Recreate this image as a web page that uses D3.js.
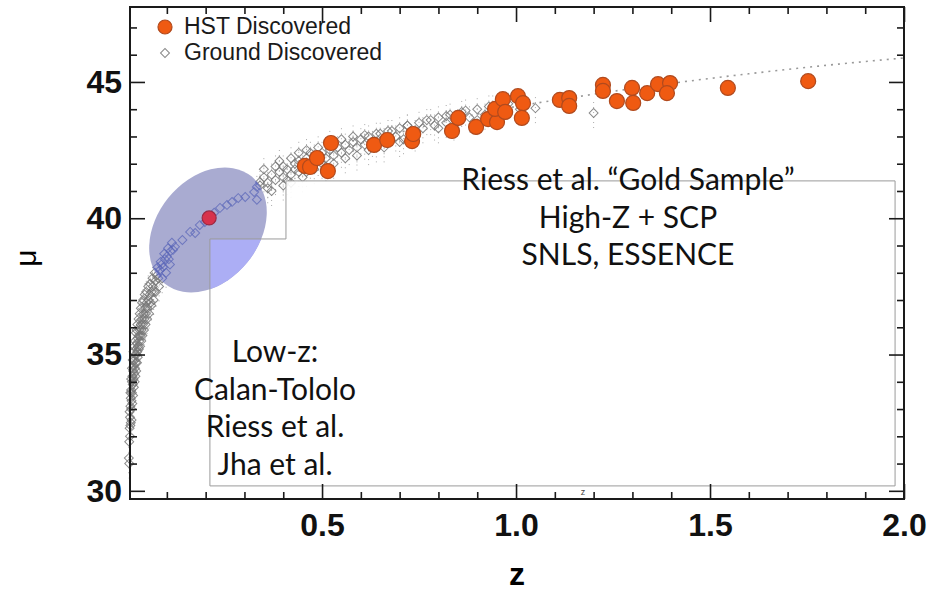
<!DOCTYPE html>
<html>
<head>
<meta charset="utf-8">
<script src="https://cdn.jsdelivr.net/npm/d3@7"></script>
<style>
  body { margin: 0; background: #fff; }
  svg { display: block; }
  .tick line { stroke: #1a1a1a; stroke-width: 1.6px; }
  .lab { font-family: "Lato", "Open Sans", sans-serif; font-size: 30px; fill: #111; text-anchor: middle; }
</style>
</head>
<body>
<svg id="chart" width="945" height="592"></svg>
<script>
// HST discovered SNe (orange)
var hstZ = [0.456, 0.469, 0.487, 0.515, 0.523, 0.634, 0.668, 0.732, 0.735, 0.835, 0.851, 0.897,
    0.928, 0.951, 0.946, 0.966, 0.972, 1.005, 1.018, 1.015, 1.113, 1.137, 1.137, 1.224, 1.224,
    1.260, 1.299, 1.302, 1.338, 1.366, 1.397, 1.389, 1.546, 1.753]
var hstMu = [41.92, 41.88, 42.21, 41.73, 42.76, 42.69, 42.87, 42.83, 43.09, 43.20, 43.68, 43.35,
    43.64, 43.53, 44.01, 44.37, 43.90, 44.48, 44.22, 43.68, 44.34, 44.41, 44.12, 44.89, 44.67,
    44.30, 44.78, 44.23, 44.59, 44.92, 44.96, 44.59, 44.78, 45.03]

// Ground discovered SNe (open diamonds)
var groundZ = [0.002, 0.003, 0.003, 0.004, 0.004, 0.005, 0.005, 0.006, 0.006, 0.006, 0.007, 0.007,
    0.008, 0.008, 0.008, 0.009, 0.009, 0.010, 0.010, 0.010, 0.011, 0.011, 0.012, 0.012, 0.013,
    0.013, 0.014, 0.014, 0.015, 0.015, 0.016, 0.016, 0.017, 0.017, 0.018, 0.018, 0.019, 0.019,
    0.020, 0.020, 0.021, 0.021, 0.022, 0.022, 0.023, 0.023, 0.024, 0.024, 0.025, 0.025, 0.026,
    0.027, 0.028, 0.028, 0.029, 0.030, 0.030, 0.031, 0.032, 0.033, 0.033, 0.034, 0.035, 0.036,
    0.036, 0.037, 0.038, 0.039, 0.040, 0.041, 0.042, 0.043, 0.044, 0.045, 0.046, 0.047, 0.048,
    0.049, 0.050, 0.052, 0.053, 0.054, 0.056, 0.057, 0.058, 0.060, 0.061, 0.063, 0.064, 0.066,
    0.067, 0.069, 0.070, 0.072, 0.074, 0.076, 0.078, 0.080, 0.082, 0.084, 0.086, 0.088, 0.090,
    0.093, 0.095, 0.098, 0.100, 0.103, 0.105, 0.108, 0.110, 0.113,
    0.116, 0.121, 0.140, 0.160, 0.173, 0.185, 0.198, 0.222, 0.237, 0.255, 0.268, 0.284, 0.302,
    0.325, 0.332, 0.332, 0.340,
    0.34, 0.35, 0.35, 0.36, 0.36, 0.37, 0.37, 0.38, 0.38, 0.39, 0.39, 0.40, 0.40, 0.40, 0.41,
    0.41, 0.42, 0.42, 0.42, 0.43, 0.43, 0.44, 0.44, 0.44, 0.45, 0.45, 0.46, 0.46, 0.46, 0.47,
    0.47, 0.48, 0.48, 0.49, 0.49, 0.50, 0.50, 0.51, 0.51, 0.52, 0.52, 0.53, 0.53, 0.54, 0.55,
    0.55, 0.56, 0.56, 0.57, 0.58, 0.58, 0.59, 0.59, 0.60, 0.61, 0.61, 0.62, 0.62, 0.63, 0.64,
    0.64, 0.65, 0.66, 0.66, 0.67, 0.68, 0.69, 0.70, 0.70, 0.71, 0.72, 0.72, 0.74, 0.74, 0.75,
    0.76, 0.77, 0.78, 0.79, 0.80, 0.80, 0.82, 0.82, 0.83, 0.84, 0.85, 0.86, 0.87, 0.88, 0.90,
    0.90, 0.92, 0.93, 0.94, 0.96, 0.97, 0.98, 1.01, 1.05, 1.20]
var groundMu = [31.2, 31.0, 31.8, 32.3, 32.9, 32.0, 32.7, 33.1, 32.4, 33.6, 32.5, 33.4,
    33.0, 33.7, 34.1, 33.3, 32.6, 34.0, 33.6, 34.5, 34.2, 33.2, 33.9, 34.8, 34.4,
    33.5, 34.1, 35.1, 34.6, 33.8, 34.3, 35.3, 34.8, 34.0, 34.5, 35.5, 35.0, 34.2,
    34.7, 35.8, 35.2, 34.4, 35.0, 35.9, 35.4, 34.7, 35.1, 36.1, 35.6, 34.9, 35.3,
    36.3, 35.7, 35.2, 35.5, 35.9, 36.5, 35.3, 35.7, 36.1, 36.7, 35.5, 35.9, 36.3,
    36.9, 35.7, 36.1, 37.0, 36.5, 35.9, 36.3, 37.2, 36.7, 36.1, 36.5, 37.3, 36.9,
    36.3, 36.7, 37.5, 37.0, 36.5, 37.2, 37.6, 36.9, 36.8, 37.3, 37.8, 37.5, 37.0,
    37.3, 38.0, 37.7, 37.3, 37.9, 38.2, 37.8, 37.5, 38.1, 38.4, 38.3, 37.8, 38.2,
    38.7, 38.5, 38.0, 38.6, 38.9, 38.5, 38.3, 38.8, 39.1,
    38.84, 38.95, 39.2, 39.50, 39.46, 39.75, 39.86, 40.2, 40.38, 40.49, 40.60, 40.74, 40.78,
    40.96, 41.15, 40.68, 41.33,
    41.2, 41.5, 41.8, 41.3, 41.1, 41.6, 41.0, 41.4, 41.9, 41.7, 42.1, 41.5, 41.9, 41.2, 41.8,
    41.4, 41.6, 42.2, 41.3, 42.0, 41.8, 42.1, 41.7, 42.4, 41.9, 41.5, 42.2, 41.7, 42.5, 42.0,
    42.4, 42.3, 41.8, 42.1, 42.6, 42.4, 42.0, 42.2, 41.9, 42.5, 42.8, 42.3, 42.0, 42.6, 42.4,
    42.9, 42.7, 42.2, 42.5, 42.8, 43.0, 42.6, 42.3, 42.9, 42.7, 43.05, 43.0, 42.5, 42.8, 42.6,
    43.1, 43.1, 42.9, 42.6, 43.2, 43.2, 43.0, 43.3, 42.8, 42.9, 43.4, 43.4, 43.2, 43.0, 43.5,
    43.3, 43.6, 43.6, 43.4, 43.7, 43.3, 43.5, 43.75, 43.8, 43.4, 43.6, 43.9, 43.95, 43.7, 44.0,
    43.6, 43.8, 44.1, 44.1, 43.9, 44.2, 44.2, 44.0, 44.04, 43.86]

// Model curve (dotted)
var modelZ = [0.5, 0.6, 0.7, 0.8, 0.9, 1.0, 1.1, 1.2, 1.3, 1.4, 1.5, 1.6, 1.7, 1.8, 1.9, 2.0]
var modelMu = [42.3, 42.75, 43.15, 43.5, 43.82, 44.1, 44.33, 44.55, 44.76, 44.95, 45.13, 45.3,
    45.46, 45.61, 45.75, 45.88]

// Highlighted SN inside the ellipse
var highlightZ = [0.209]
var highlightMu = [40.01]

// Ticks
var xMajor = [0.5, 1.0, 1.5, 2.0]
var xMinor = [0.1, 0.2, 0.3, 0.4, 0.6, 0.7, 0.8, 0.9, 1.1, 1.2, 1.3, 1.4, 1.6, 1.7, 1.8, 1.9]
var yMajor = [30, 35, 40, 45]
var yMinor = [31, 32, 33, 34, 36, 37, 38, 39, 41, 42, 43, 44, 46, 47]

// Annotation text
var goldLines = ["Riess et al. \u201cGold Sample\u201d", "High-Z + SCP", "SNLS, ESSENCE"]
var lowLines = ["Low-z:", "Calan-Tololo", "Riess et al.", "Jha et al."]
var legendLabels = ["HST Discovered", "Ground Discovered"]

var plotLeft = 130, plotTop = 7, plotRight = 904, plotBottom = 499
var svg = d3.select("#chart")

var x = d3.scaleLinear().domain([0.005, 2.0]).range([plotLeft, plotRight])
var y = d3.scaleLinear().domain([29.7, 47.75]).range([plotBottom, plotTop])

var orange = "#ef5a12"
var orangeStroke = "#b04a1e"

var ground = groundZ.map((z, i) => ({z: z, mu: groundMu[i]}))
var hst = hstZ.map((z, i) => ({z: z, mu: hstMu[i]}))

var diamond = d3.symbol().type(d3.symbolSquare).size(40)

// faint error bar dots
svg.append("g").selectAll("line")
    .data(ground)
    .enter().append("line")
    .attr("x1", d => x(d.z)).attr("x2", d => x(d.z))
    .attr("y1", d => y(d.mu - 0.55)).attr("y2", d => y(d.mu + 0.55))
    .style("stroke", "#aaa")
    .style("stroke-width", "1px")
    .style("stroke-dasharray", "1,4")

svg.append("g").selectAll("path")
    .data(ground)
    .enter().append("path")
    .attr("d", diamond)
    .attr("transform", d => "translate(" + x(d.z) + "," + y(d.mu) + ") rotate(45)")
    .style("fill", "none")
    .style("stroke", "#777")
    .style("stroke-opacity", 0.85)
    .style("stroke-width", "1px")

// model line
var line = d3.line().x(d => x(d[0])).y(d => y(d[1])).curve(d3.curveMonotoneX)
svg.append("path")
    .datum(modelZ.map((z, i) => [z, modelMu[i]]))
    .attr("d", line)
    .style("fill", "none")
    .style("stroke", "#999")
    .style("stroke-width", "1.6px")
    .style("stroke-dasharray", "2,5")

// step shaped box behind the annotations
var boxPts = [[0.211, 30.18], [0.211, 39.24], [0.407, 39.24], [0.407, 41.37], [1.977, 41.37], [1.977, 30.18]]
var boxPath = "M" + boxPts.map(p => x(p[0]) + "," + y(p[1])).join("L") + "Z"
svg.append("path")
    .attr("d", boxPath)
    .style("fill", "#fff")
    .style("fill-opacity", 0.9)

// ellipse
var ell = {z: 0.206, mu: 39.57}
var ellTransform = "translate(" + x(ell.z) + "," + y(ell.mu) + ") rotate(-51)"
var defs = svg.append("defs")
defs.append("clipPath").attr("id", "boxClip").append("path").attr("d", boxPath)
defs.append("clipPath").attr("id", "ellClip").append("ellipse")
    .attr("rx", 69).attr("ry", 51)
    .attr("transform", ellTransform)

svg.append("ellipse")
    .attr("rx", 69).attr("ry", 51)
    .attr("transform", ellTransform)
    .style("fill", "#a9abd1")
svg.append("g").attr("clip-path", "url(#boxClip)")
    .append("ellipse")
    .attr("rx", 69).attr("ry", 51)
    .attr("transform", ellTransform)
    .style("fill", "#acaef5")

// diamonds seen through the ellipse
svg.append("g").attr("clip-path", "url(#ellClip)")
    .selectAll("path")
    .data(ground)
    .enter().append("path")
    .attr("d", diamond)
    .attr("transform", d => "translate(" + x(d.z) + "," + y(d.mu) + ") rotate(45)")
    .style("fill", "none")
    .style("stroke", "#5a66b8")
    .style("stroke-opacity", 0.75)
    .style("stroke-width", "1px")

svg.append("path")
    .attr("d", boxPath)
    .style("fill", "none")
    .style("stroke", "#9a9a9a")
    .style("stroke-width", "1px")

// HST points
svg.append("g").selectAll("circle")
    .data(hst)
    .enter().append("circle")
    .attr("cx", d => x(d.z))
    .attr("cy", d => y(d.mu))
    .attr("r", 7.5)
    .style("fill", orange)
    .style("stroke", orangeStroke)
    .style("stroke-width", "1.2px")

svg.append("g").selectAll("circle")
    .data(highlightZ.map((z, i) => ({z: z, mu: highlightMu[i]})))
    .enter().append("circle")
    .attr("cx", d => x(d.z))
    .attr("cy", d => y(d.mu))
    .attr("r", 7)
    .style("fill", "#d8324c")
    .style("stroke", "#9a2a44")
    .style("stroke-width", "1.2px")

// annotation text
svg.append("g").selectAll("text")
    .data(goldLines)
    .enter().append("text")
    .attr("class", "lab")
    .attr("x", 628)
    .attr("y", (d, i) => 190 + i * 37.5)
    .text(d => d)

svg.append("g").selectAll("text")
    .data(lowLines)
    .enter().append("text")
    .attr("class", "lab")
    .attr("x", 275)
    .attr("y", (d, i) => 362 + i * 37.7)
    .text(d => d)

// axes
function tickAxis(axis, scale, vals, size, tx, ty) {
    var g = svg.append("g")
        .attr("transform", "translate(" + tx + "," + ty + ")")
        .call(axis(scale).tickValues(vals).tickSize(size).tickFormat(""))
    g.select(".domain").remove()
    return g
}
tickAxis(d3.axisBottom, x, xMinor, -7, 0, plotBottom)
tickAxis(d3.axisTop, x, xMinor, -7, 0, plotTop)
tickAxis(d3.axisTop, x, xMajor, -15, 0, plotTop)
tickAxis(d3.axisLeft, y, yMinor, -7, plotLeft, 0)
tickAxis(d3.axisRight, y, yMinor, -7, plotRight, 0)
tickAxis(d3.axisRight, y, yMajor, -15, plotRight, 0)

var xAxis = svg.append("g")
    .attr("transform", "translate(0," + plotBottom + ")")
    .call(d3.axisBottom(x).tickValues(xMajor).tickSize(-15).tickPadding(14).tickFormat(d3.format(".1f")))
xAxis.select(".domain").remove()

var yAxis = svg.append("g")
    .attr("transform", "translate(" + plotLeft + ",0)")
    .call(d3.axisLeft(y).tickValues(yMajor).tickSize(-15).tickPadding(8).tickFormat(d3.format("d")))
yAxis.select(".domain").remove()

svg.selectAll(".tick text")
    .style("font-family", "'Liberation Sans', Arial, sans-serif")
    .style("font-weight", "bold")
    .style("font-size", "32px")
    .style("fill", "#111")

svg.append("rect")
    .attr("x", plotLeft).attr("y", plotTop)
    .attr("width", plotRight - plotLeft).attr("height", plotBottom - plotTop)
    .style("fill", "none")
    .style("stroke", "#1a1a1a")
    .style("stroke-width", "2px")

svg.append("text")
    .attr("x", (plotLeft + plotRight) / 2)
    .attr("y", 585)
    .attr("text-anchor", "middle")
    .style("font-family", "'Liberation Sans', Arial, sans-serif")
    .style("font-weight", "bold")
    .style("font-size", "32px")
    .text("z")

svg.append("text")
    .attr("transform", "translate(36,258) rotate(-90)")
    .attr("text-anchor", "middle")
    .style("font-family", "'Liberation Sans', Arial, sans-serif")
    .style("font-size", "30px")
    .text("\u03bc")

svg.append("text")
    .attr("x", 583).attr("y", 495)
    .attr("text-anchor", "middle")
    .style("font-family", "'Liberation Sans', Arial, sans-serif")
    .style("font-size", "9px")
    .style("fill", "#444")
    .text("z")

// legend
var legend = svg.append("g")
legend.append("circle")
    .attr("cx", 165).attr("cy", 27).attr("r", 7)
    .style("fill", orange).style("stroke", orangeStroke).style("stroke-width", "1.2px")
legend.append("path")
    .attr("d", diamond)
    .attr("transform", "translate(165,53) rotate(45)")
    .style("fill", "none").style("stroke", "#8a8a8a")
legend.selectAll("text")
    .data(legendLabels)
    .enter().append("text")
    .attr("x", 184)
    .attr("y", (d, i) => 34 + i * 26)
    .style("font-family", "'Liberation Sans', Arial, sans-serif")
    .style("font-size", "23px")
    .style("fill", "#1a1a1a")
    .text(d => d)
</script>
</body>
</html>
